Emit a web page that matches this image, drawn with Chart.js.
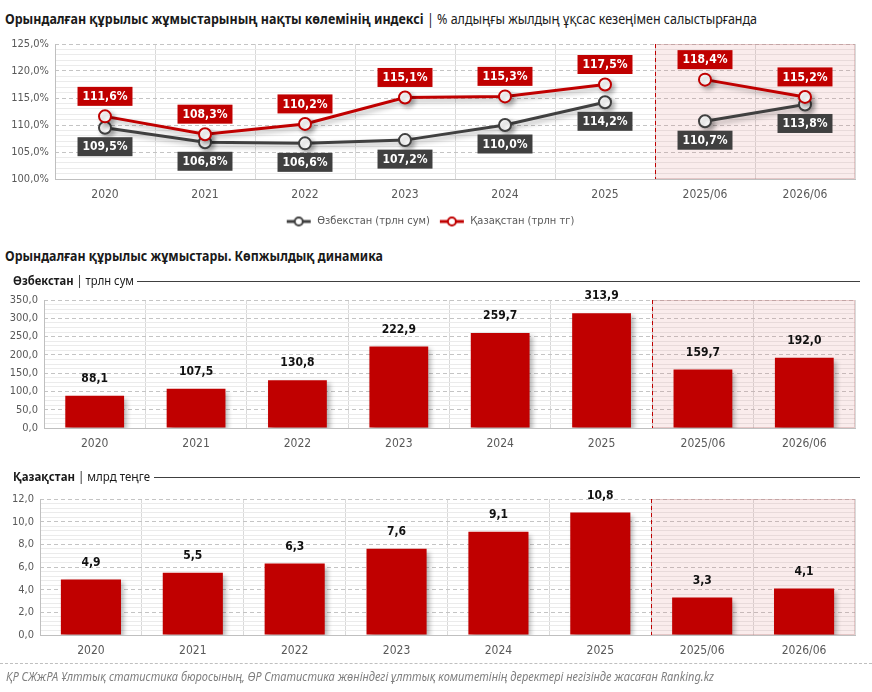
<!DOCTYPE html>
<html>
<head>
<meta charset="utf-8">
<script src="https://cdn.jsdelivr.net/npm/chart.js@4.4.1/dist/chart.umd.min.js"></script>
<style>
  body { margin:0; width:872px; height:692px; background:#fff; position:relative; overflow:hidden;
    font-family:"Noto Sans","DejaVu Sans",sans-serif; color:#1a1a1a; }
  .fit { position:absolute; display:inline-block; white-space:nowrap; transform-origin:0 50%; }
  .ttl { left:5px; font-size:14px; line-height:18px; }
  .sub { left:13px; font-size:12.5px; line-height:16px; }
  .ln { position:absolute; right:12px; border-top:1px solid #404040; height:0; }
  .box { position:absolute; left:0; width:872px; }
  .foot { position:absolute; left:0; right:0; top:663px; border-top:1px dashed #bfbfbf; }
  .src { left:6px; top:669px; font-size:12px; font-style:italic; color:#7f7f7f; line-height:16px; }
</style>
</head>
<body>
<div class="fit ttl" data-w="752" style="top:10px"><b>Орындалған құрылыс жұмыстарының нақты көлемінің индексі</b> | % алдыңғы жылдың ұқсас кезеңімен салыстырғанда</div>
<div class="box" style="top:30px;height:207px"><canvas id="indexChart"></canvas></div>

<div class="fit ttl" data-w="378" style="top:247px"><b>Орындалған құрылыс жұмыстары. Көпжылдық динамика</b></div>
<div class="box" style="top:270px;height:190px"><canvas id="uzChart"></canvas></div>
<div class="fit sub" data-w="121" style="top:273px"><b>Өзбекстан</b> | трлн сум</div>
<div class="ln" style="left:137px;top:281px"></div>

<div class="box" style="top:470px;height:200px"><canvas id="kzChart"></canvas></div>
<div class="fit sub" data-w="137" style="top:469px"><b>Қазақстан</b> | млрд теңге</div>
<div class="ln" style="left:154px;top:477px"></div>

<div class="foot"></div>
<div class="fit src" data-w="708">ҚР СЖжРА Ұлттық статистика бюросының, ӨР Статистика жөніндегі ұлттық комитетінің деректері негізінде жасаған Ranking.kz</div>

<script>
// данные
const categories = ["2020", "2021", "2022", "2023", "2024", "2025", "2025/06", "2026/06"];
const uzIndex = [109.5, 106.8, 106.6, 107.2, 110.0, 114.2, 110.7, 113.8];
const kzIndex = [111.6, 108.3, 110.2, 115.1, 115.3, 117.5, 118.4, 115.2];
const uzVolume = [88.1, 107.5, 130.8, 222.9, 259.7, 313.9, 159.7, 192.0];
const kzVolume = [4.9, 5.5, 6.3, 7.6, 9.1, 10.8, 3.3, 4.1];
const seriesNames = ["Өзбекстан (трлн сум)", "Қазақстан (трлн тг)"];
const halfYearStart = categories.indexOf("2025/06");

const RED = '#C00000';
const DARK = '#404040';
const FONT = '"DejaVu Sans Condensed","DejaVu Sans",sans-serif';

// подгоняем ширину заголовков под макет
document.querySelectorAll('.fit').forEach(function(el) {
  const w = el.getBoundingClientRect().width;
  el.style.transform = 'scaleX(' + (el.dataset.w / w) + ')';
});

Chart.defaults.font.family = FONT;
Chart.defaults.font.size = 11;
Chart.defaults.color = '#595959';

const comma = (v) => v.toFixed(1).replace('.', ',');

// розовая зона полугодия + красная пунктирная линия
const shadePlugin = {
  id: 'shade',
  beforeDatasetsDraw(chart) {
    const x = chart.scales.x, a = chart.chartArea, ctx = chart.ctx;
    const x0 = Math.round((x.getPixelForValue(halfYearStart - 1) + x.getPixelForValue(halfYearStart)) / 2) + 0.5;
    ctx.save();
    ctx.fillStyle = 'rgba(220,120,120,0.14)';
    ctx.fillRect(x0, a.top, a.right - x0, a.bottom - a.top);
    ctx.strokeStyle = 'rgba(190,130,130,0.35)';
    ctx.lineWidth = 1;
    ctx.strokeRect(x0, a.top + 0.5, a.right - x0 - 0.5, a.bottom - a.top - 1);
    ctx.strokeStyle = RED;
    ctx.setLineDash([4, 3]);
    ctx.beginPath();
    ctx.moveTo(x0, a.top);
    ctx.lineTo(x0, a.bottom);
    ctx.stroke();
    ctx.restore();
  }
};

// тень под столбцами и линиями
const shadowPlugin = {
  id: 'shadow',
  beforeDatasetDraw(chart) {
    const c = chart.ctx;
    c.save();
    c.shadowColor = 'rgba(0,0,0,0.3)';
    c.shadowBlur = 5;
    c.shadowOffsetX = 3;
    c.shadowOffsetY = 3;
  },
  afterDatasetDraw(chart) {
    chart.ctx.restore();
  }
};

const barLabels = {
  id: 'barLabels',
  afterDatasetsDraw(chart) {
    const ctx = chart.ctx;
    const ds = chart.data.datasets[0];
    ctx.save();
    ctx.font = 'bold 12px ' + FONT;
    ctx.fillStyle = '#111';
    ctx.textAlign = 'center';
    ctx.textBaseline = 'middle';
    chart.getDatasetMeta(0).data.forEach((bar, i) => {
      ctx.fillText(comma(ds.data[i]), bar.x, bar.y - 17);
    });
    ctx.restore();
  }
};

const lineLabels = {
  id: 'lineLabels',
  afterDatasetsDraw(chart) {
    const ctx = chart.ctx;
    ctx.save();
    ctx.font = 'bold 12px ' + FONT;
    ctx.textAlign = 'center';
    ctx.textBaseline = 'middle';
    chart.data.datasets.forEach((ds, di) => {
      chart.getDatasetMeta(di).data.forEach((pt, i) => {
        const txt = comma(ds.data[i]) + '%';
        const w = ctx.measureText(txt).width + 10, h = 19;
        const cy = ds.labelAbove ? pt.y - 20 : pt.y + 19;
        ctx.fillStyle = ds.borderColor;
        ctx.fillRect(pt.x - w / 2, cy - h / 2, w, h);
        ctx.fillStyle = '#fff';
        ctx.fillText(txt, pt.x, cy + 0.5);
      });
    });
    ctx.restore();
  }
};

// значок легенды: линия с кружком
function legendIcon(color) {
  const c = document.createElement('canvas');
  c.width = 26; c.height = 12;
  const g = c.getContext('2d');
  g.strokeStyle = color; g.lineWidth = 3;
  g.beginPath(); g.moveTo(1, 6); g.lineTo(25, 6); g.stroke();
  g.fillStyle = '#fff'; g.lineWidth = 2;
  g.beginPath(); g.arc(13, 6, 4, 0, Math.PI * 2); g.fill(); g.stroke();
  return c;
}

function isMajor(v, major) {
  return Math.abs(v / major - Math.round(v / major)) < 1e-6;
}

// общие шкалы
function makeScales(min, max, major, minor, yWidth, xHeight, fmt) {
  return {
    x: {
      offset: true,
      grid: { offset: true, color: '#d9d9d9', drawTicks: false },
      border: { color: '#bfbfbf' },
      ticks: { padding: 9, font: { size: 12 } },
      afterFit: (s) => { s.height = xHeight; }
    },
    y: {
      min: min, max: max,
      ticks: { stepSize: major, padding: 6, callback: fmt },
      grid: { color: '#c4c4c4', drawTicks: false },
      border: { display: false, dash: [4, 3] },
      afterFit: (s) => { s.width = yWidth; }
    },
    y2: {
      position: 'left', weight: -1,
      min: min, max: max,
      ticks: { display: false, stepSize: minor },
      grid: { drawTicks: false, color: (c) => isMajor(c.tick.value, major) ? 'rgba(0,0,0,0)' : '#ebebeb' },
      border: { color: '#bfbfbf' },
      afterFit: (s) => { s.width = 0; }
    }
  };
}

// индекс
new Chart(document.getElementById('indexChart'), {
  type: 'line',
  data: {
    labels: categories,
    datasets: [{
      label: seriesNames[0],
      data: uzIndex,
      borderColor: DARK,
      labelAbove: false,
      order: 1,
      segment: { borderColor: (c) => c.p0DataIndex === halfYearStart - 1 ? 'rgba(0,0,0,0)' : DARK }
    }, {
      label: seriesNames[1],
      data: kzIndex,
      borderColor: RED,
      labelAbove: true,
      order: 0,
      segment: { borderColor: (c) => c.p0DataIndex === halfYearStart - 1 ? 'rgba(0,0,0,0)' : RED }
    }]
  },
  options: {
    responsive: true,
    maintainAspectRatio: false,
    animation: false,
    layout: { padding: { left: 5, right: 17, top: 14, bottom: 0 } },
    elements: {
      line: { borderWidth: 3, tension: 0 },
      point: { radius: 6, borderWidth: 2, backgroundColor: '#fff', hoverRadius: 6 }
    },
    datasets: { line: { pointBorderColor: (c) => c.dataset.borderColor, pointBackgroundColor: '#fff' } },
    scales: makeScales(100, 125, 5, 1, 50, 28, (v) => comma(v) + '%'),
    plugins: {
      tooltip: { enabled: false },
      legend: {
        position: 'bottom',
        labels: {
          usePointStyle: true,
          pointStyleWidth: 26,
          padding: 9,
          color: '#595959',
          font: { size: 11 },
          generateLabels: (chart) => chart.data.datasets.map((ds, i) => ({
            text: ds.label,
            pointStyle: legendIcon(ds.borderColor),
            fontColor: '#595959',
            lineWidth: 0,
            strokeStyle: 'rgba(0,0,0,0)',
            fillStyle: 'rgba(0,0,0,0)',
            datasetIndex: i
          }))
        }
      }
    }
  },
  plugins: [shadePlugin, shadowPlugin, lineLabels]
});

function volumeChart(id, values, max, major, minor, yWidth, pad, barPct) {
  return new Chart(document.getElementById(id), {
    type: 'bar',
    data: {
      labels: categories,
      datasets: [{ data: values, backgroundColor: RED, barPercentage: barPct, categoryPercentage: 1 }]
    },
    options: {
      responsive: true,
      maintainAspectRatio: false,
      animation: false,
      layout: { padding: pad },
      scales: makeScales(0, max, major, minor, yWidth, 30, (v) => comma(v)),
      plugins: { legend: { display: false }, tooltip: { enabled: false } }
    },
    plugins: [shadePlugin, shadowPlugin, barLabels]
  });
}

volumeChart('uzChart', uzVolume, 350, 50, 12.5, 40, { left: 4, right: 17, top: 30, bottom: 2 }, 0.58);
volumeChart('kzChart', kzVolume, 12, 2, 0.4, 36, { left: 4, right: 17, top: 29, bottom: 5 }, 0.59);
</script>
</body>
</html>
